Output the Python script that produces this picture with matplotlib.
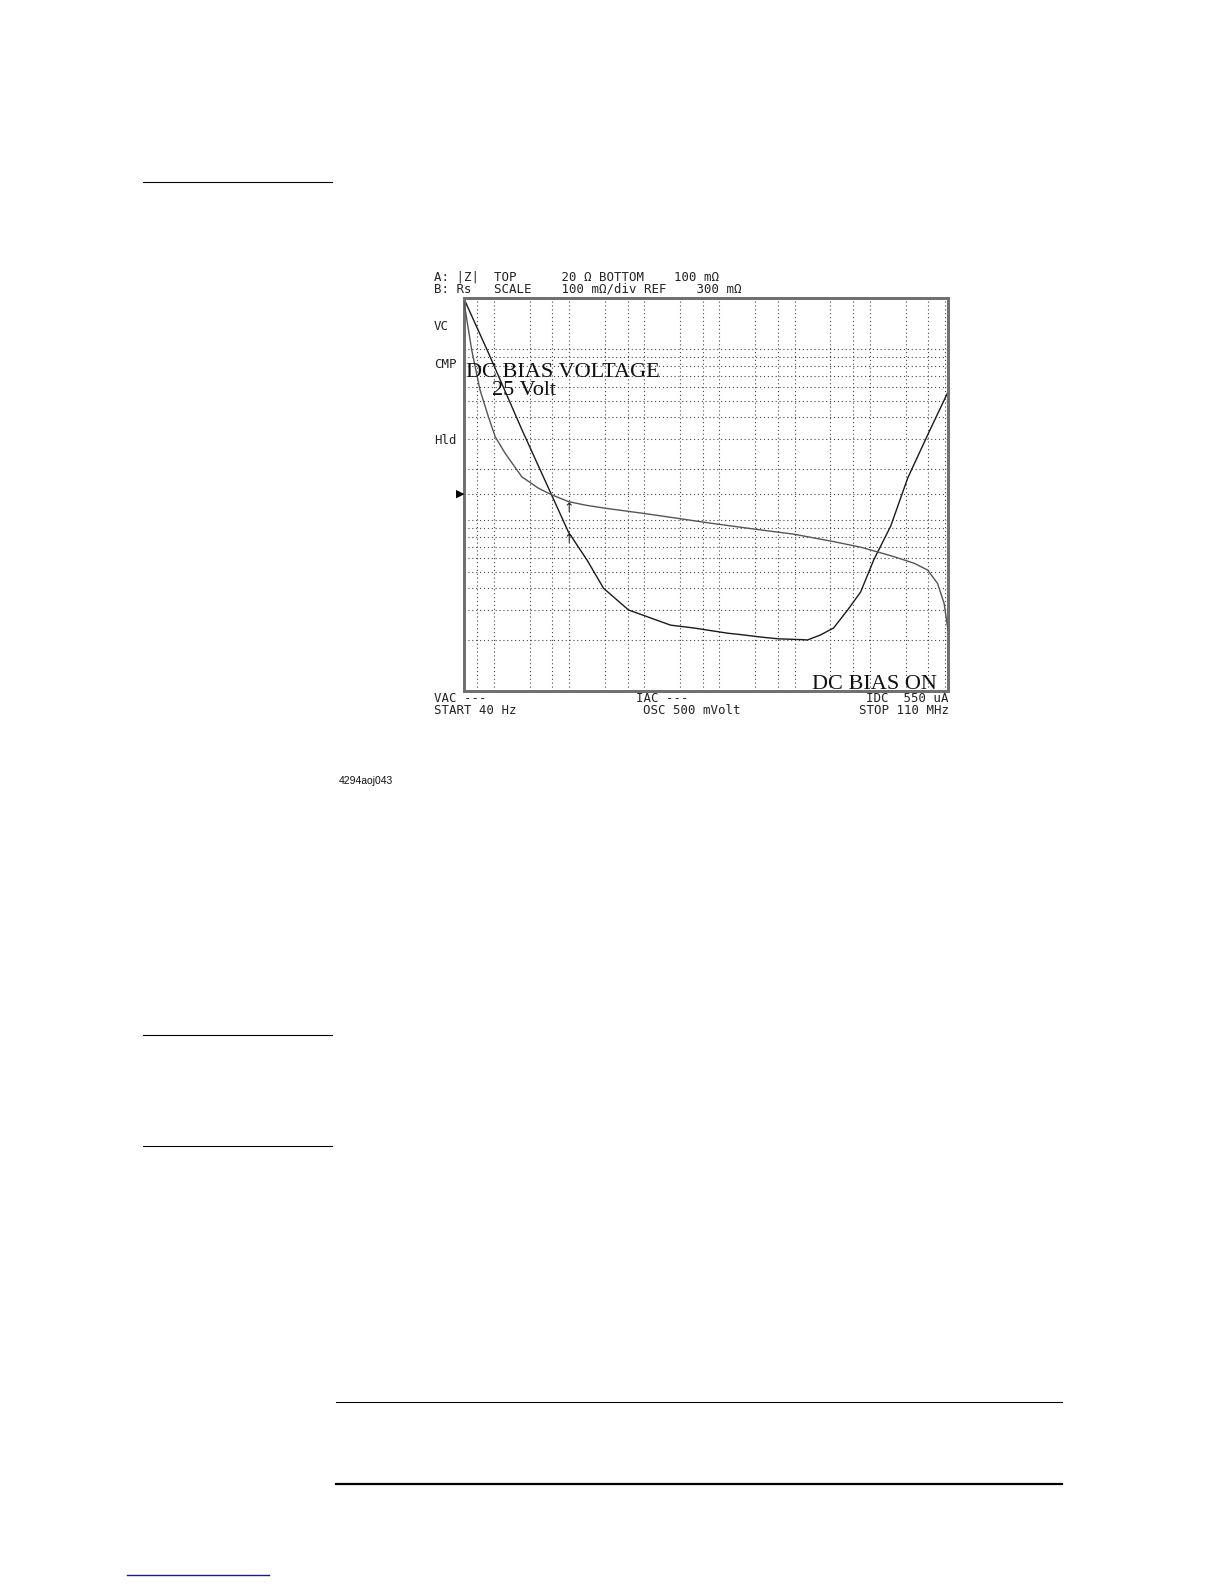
import numpy as np
import matplotlib
matplotlib.use("Agg")
import matplotlib.pyplot as plt
from matplotlib.lines import Line2D

# ---- data ----
freq_z = [40, 84, 235, 588, 980, 1730, 2880, 6200, 22400, 45200, 128600, 191000,
          353000, 611000, 1210000, 1490000, 2220000, 3310000, 5080000, 7570000,
          11300000, 19000000, 32100000, 65000000, 110000000]
z_mag = [19.8, 9.6, 3.40, 1.40, 0.853, 0.585, 0.399, 0.298, 0.243, 0.234, 0.218, 0.214,
         0.207, 0.202, 0.200, 0.199, 0.213, 0.234, 0.298, 0.380,
         0.585, 0.923, 1.77, 3.46, 5.63]

freq_rs = [40, 50.6, 65.3, 84.4, 104, 141, 235, 391, 590, 980, 1640, 3040, 9700, 22400,
           76600, 319000, 981000, 3330000, 7570000, 12600000, 20900000, 39000000,
           58800000, 79800000, 97600000, 110000000]
rs_val = [0.79, 0.668, 0.566, 0.498, 0.447, 0.405, 0.345, 0.316, 0.299, 0.282, 0.273, 0.265,
          0.252, 0.242, 0.227, 0.211, 0.199, 0.180, 0.166, 0.154, 0.142, 0.125,
          0.108, 0.074, 0.023, -0.045]

vgrid = [60, 100, 300, 600, 1e3, 3e3, 6e3, 1e4, 3e4, 6e4, 1e5, 3e5, 6e5,
         1e6, 3e6, 6e6, 1e7, 3e7, 6e7, 1e8]
hgrid = [0.2, 0.3, 0.4, 0.5, 0.6, 0.7, 0.8, 0.9, 1, 2, 3, 4, 5, 6, 7, 8, 9, 10]
marker_f = 1000

header1 = "A: |Z|  TOP      20 \u03a9 BOTTOM    100 m\u03a9"
header2 = "B: Rs   SCALE    100 m\u03a9/div REF    300 m\u03a9"

W, H = 1224, 1584
def fx(x): return x / W
def fy(y): return 1 - y / H

fig = plt.figure(figsize=(12.24, 15.84), dpi=100)
fig.patch.set_facecolor('white')

ax = fig.add_axes([fx(464), fy(691), (948 - 464) / W, (691 - 298) / H])
ax.set_xscale('log')
ax.set_yscale('log')
ax.set_xlim(40, 110e6)
ax.set_ylim(0.1, 20)
ax.tick_params(which='both', length=0, labelbottom=False, labelleft=False)

gstyle = dict(color='#444444', lw=0.8, linestyle=(0, (1, 2.5)), zorder=1)
for f in vgrid:
    ax.axvline(f, **gstyle)
for z in hgrid:
    ax.axhline(z, **gstyle)

ax.plot(freq_z, z_mag, color='#1a1a1a', lw=1.0, zorder=3)

ax2 = ax.twinx()
ax2.set_ylim(-0.2, 0.8)
ax2.tick_params(which='both', length=0, labelright=False)
ax2.axhline(0.3, **gstyle)
ax2.plot(freq_rs, rs_val, color='#555555', lw=1.0, zorder=3)

for a in (ax, ax2):
    for s in a.spines.values():
        s.set_color('#707070')
        s.set_linewidth(2)

# marker arrows at 1 kHz
lf = np.log10(marker_f)
zm = 10 ** np.interp(lf, np.log10(freq_z), np.log10(z_mag))
rm = np.interp(lf, np.log10(freq_rs), rs_val)
ax.text(marker_f, zm, "\u2191", ha='center', va='top', fontsize=9, color='#222222')
ax2.text(marker_f, rm, "\u2191", ha='center', va='top', fontsize=9, color='#222222')

mono = dict(family='DejaVu Sans Mono', fontsize=8.9, color='#222222', va='center')
fig.text(fx(434), fy(277), header1, ha='left', **mono)
fig.text(fx(434), fy(289), header2, ha='left', **mono)
fig.text(fx(434), fy(326), "VC", ha='left', **mono)
fig.text(fx(434), fy(364), "CMP", ha='left', **mono)
fig.text(fx(434), fy(441), "Hld", ha='left', **mono)
fig.text(fx(460), fy(494), "\u25b6", ha='center', va='center', fontsize=8, color='black',
         family='DejaVu Sans')
fig.text(fx(434), fy(699), "VAC ---", ha='left', **mono)
fig.text(fx(434), fy(710), "START 40 Hz", ha='left', **mono)
fig.text(fx(636), fy(699), "IAC ---", ha='left', **mono)
fig.text(fx(643), fy(710), "OSC 500 mVolt", ha='left', **mono)
fig.text(fx(949), fy(699), "IDC  550 uA", ha='right', **mono)
fig.text(fx(949), fy(710), "STOP 110 MHz", ha='right', **mono)

serif = dict(family='Liberation Serif', fontsize=16, color='#111111', va='baseline')
fig.text(fx(466), fy(377), "DC BIAS VOLTAGE", ha='left', **serif)
fig.text(fx(492), fy(395), "25 Volt", ha='left', **serif)
fig.text(fx(937), fy(689), "DC BIAS ON", ha='right', **serif)

fig.text(fx(339), fy(781), "4294aoj043", ha='left', va='center', fontsize=7.5,
         family='Liberation Sans', color='#111111')

# page rules
def rule(x0, x1, y, lw=1.0, color='black'):
    fig.add_artist(Line2D([fx(x0), fx(x1)], [fy(y), fy(y)], transform=fig.transFigure,
                          color=color, lw=lw))

rule(143, 332, 182, 0.8)
rule(143, 332, 1035, 0.8)
rule(143, 332, 1146, 0.8)
rule(336, 1062, 1402, 0.8)
rule(336, 1062, 1484, 1.6)
rule(127, 269, 1575, 1.0, '#1a1a80')

fig.savefig("out.png", dpi=100, facecolor='white')
